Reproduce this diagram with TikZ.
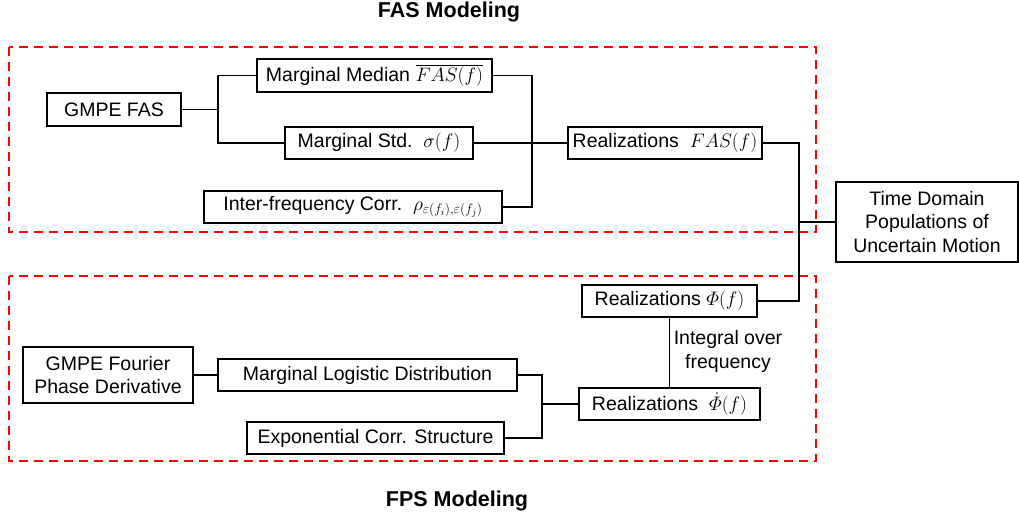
\RequirePackage{fix-cm}
\documentclass[tikz,border=0pt]{standalone}
\usepackage{fontspec}
\setmainfont{Liberation Sans}
\begin{document}
\begin{tikzpicture}[x=1pt,y=-1pt,
  txt/.style={font=\fontsize{19.5}{23.5}\selectfont},
  box/.style={txt,draw=black,line width=1.7pt,inner sep=0pt,align=center,fill=white},
  conn/.style={draw=black,line width=1.7pt},
  region/.style={draw=red,line width=2.2pt,dash pattern=on 9pt off 6pt},
  title/.style={font=\fontsize{21.5}{25}\selectfont\bfseries}]
\useasboundingbox (0,0) rectangle (1019,516);
% regions
\draw[region] (9,47) rectangle (816,232);
\draw[region] (9,276) rectangle (816,461);
% titles
\node[title] (t1) at (449,12) {FAS Modeling};
\node[title] (t2) at (457,501) {FPS Modeling};
% FAS boxes
\node[box,minimum width=134pt,minimum height=33pt] (gfas) at (114,109.5) {GMPE FAS};
\node[box,minimum width=235pt,minimum height=33pt] (med) at (374.5,75.5) {Marginal Median $\overline{FAS(f)}$};
\node[box,minimum width=188pt,minimum height=32pt] (std) at (379,143) {Marginal Std.~~$\sigma(f)$};
\node[box,minimum width=298pt,minimum height=32pt] (inter) at (353,207) {Inter-frequency Corr.~~$\rho_{\varepsilon(f_i),\varepsilon(f_j)}$};
\node[box,minimum width=194pt,minimum height=32pt] (rfas) at (665,143) {Realizations~~$FAS(f)$};
\node[box,minimum width=182pt,minimum height=80pt] (td) at (927,222) {Time Domain\\Populations of\\Uncertain Motion};
% FPS boxes
\node[box,minimum width=175pt,minimum height=32pt] (rphi) at (669.5,301) {Realizations $\mathnormal{\Phi}(f)$};
\node[box,minimum width=181pt,minimum height=32pt] (rphid) at (669.5,404) {Realizations~~$\dot{\mathnormal{\Phi}}(f)$};
\node[box,minimum width=170pt,minimum height=56pt] (gfour) at (108,375) {GMPE Fourier\\Phase Derivative};
\node[box,minimum width=299pt,minimum height=32pt] (logi) at (367.5,375) {Marginal Logistic Distribution};
\node[box,minimum width=257pt,minimum height=32pt] (expo) at (375.5,438) {Exponential Corr. Structure};
\node[txt,align=center] (integ) at (728,351.5) {Integral over\\frequency};
% junctions
\coordinate (j1) at (218,109.5);
\coordinate (j2) at (532,143);
\coordinate (j3) at (799,222);
\coordinate (j4) at (542,404);
% connectors
\draw[conn] (gfas.east) -- (j1);
\draw[conn] (med.west) -| (j1) |- (std.west);
\draw[conn] (med.east) -| (j2) |- (inter.east);
\draw[conn] (std.east) -- (rfas.west);
\draw[conn] (rfas.east) -| (j3) |- (rphi.east);
\draw[conn] (j3) -- (td.west);
\draw[conn] (rphi.south) -- (rphid.north);
\draw[conn] (gfour.east) -- (logi.west);
\draw[conn] (logi.east) -| (j4) |- (expo.east);
\draw[conn] (j4) -- (rphid.west);
\end{tikzpicture}
\end{document}
